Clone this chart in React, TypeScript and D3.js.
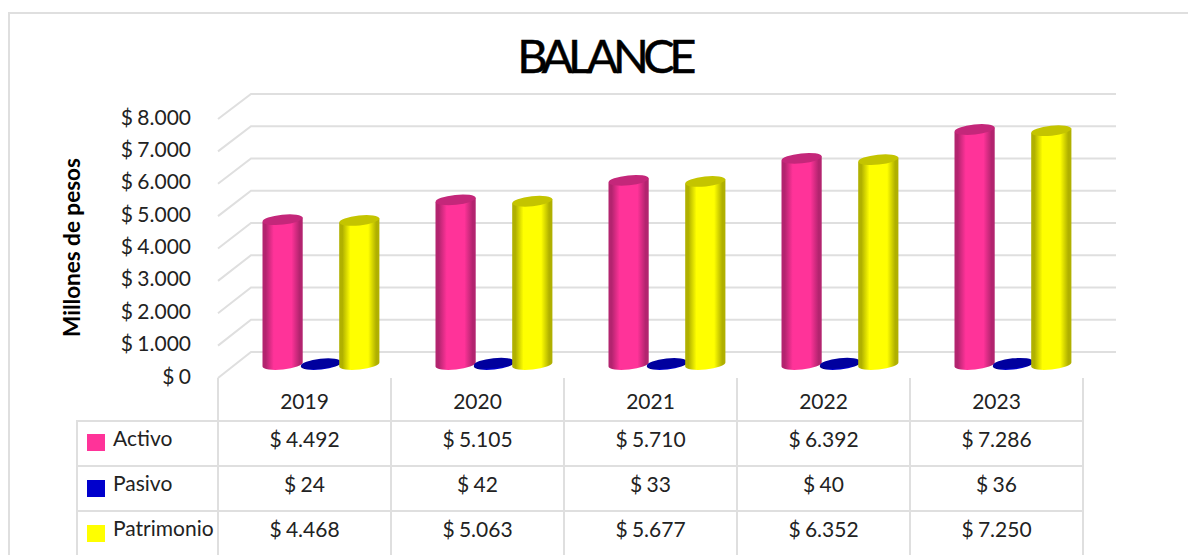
import React from "react";
import * as d3 from "d3";

const years = ["2019", "2020", "2021", "2022", "2023"];
const activo = [4492, 5105, 5710, 6392, 7286];
const pasivo = [24, 42, 33, 40, 36];
const patrimonio = [4468, 5063, 5677, 6352, 7250];
const yTicks = [0, 1000, 2000, 3000, 4000, 5000, 6000, 7000, 8000];
const seriesNames = ["Activo", "Pasivo", "Patrimonio"];
const seriesColors = ["#ff3399", "#0000cc", "#ffff00"];
const topColors = ["#c4277a", "#00009e", "#c4c400"];
const edgeColors = ["#b3246f", "#00008a", "#b0b000"];
const FONT = "Lato, 'Noto Sans', sans-serif";
const GRID = "#dfdfdf";

const fmt = (v: number) => "$ " + d3.format(",")(v).replace(/,/g, ".");

export default function App() {
  const x = d3.scaleBand<string>().domain(years).range([218, 1083]);
  const yBack = d3.scaleLinear().domain([0, 8000]).range([352, 94]);
  const yFront = d3.scaleLinear().domain([0, 8000]).range([378, 119]);
  const yBar = d3.scaleLinear().domain([0, 8000]).range([364.5, 106.5]);
  const rx = 20.1;
  const ry = 5;
  const tilt = 6;
  const dy = rx * Math.sin((tilt * Math.PI) / 180);
  const series = d3.scalePoint<string>().domain(seriesNames).range([64.6, 141.3]);
  const rows = [activo, pasivo, patrimonio];
  const rowY = [421, 466, 511];
  const swatchY = [434, 480, 525];

  return (
    <svg
      width={1188}
      height={555}
      style={{ position: "fixed", left: 0, top: 0, background: "#fff" }}
      fontFamily={FONT}
    >
      <defs>
        {seriesNames.map((n, i) => (
          <linearGradient key={n} id={"g" + i} x1="0" x2="1" y1="0" y2="0">
            <stop offset="0" stopColor={edgeColors[i]} />
            <stop offset="0.08" stopColor={edgeColors[i]} />
            <stop offset="0.28" stopColor={seriesColors[i]} />
            <stop offset="0.72" stopColor={seriesColors[i]} />
            <stop offset="0.92" stopColor={edgeColors[i]} />
            <stop offset="1" stopColor={edgeColors[i]} />
          </linearGradient>
        ))}
      </defs>
      <path d="M9,555V13H1188" fill="none" stroke={GRID} strokeWidth={2} />
      <text
        x={604}
        y={73}
        textAnchor="middle"
        fontSize={47}
        letterSpacing={-5.5}
        stroke="#000"
        strokeWidth={0.5}
        fill="#000"
      >
        BALANCE
      </text>

      {yTicks.map((t) => (
        <g key={t}>
          <path
            d={`M218,${yFront(t)}L251,${yBack(t)}H1116`}
            fill="none"
            stroke={GRID}
            strokeWidth={2}
          />
          <text x={191} y={yFront(t) + 5.5} textAnchor="end" fontSize={21} wordSpacing={-1} fill="#222">
            {fmt(t)}
          </text>
        </g>
      ))}
      <text
        transform="translate(80,247.5) rotate(-90)"
        textAnchor="middle"
        fontSize={22.5}
        fontWeight={700}
        fill="#000"
      >
        Millones de pesos
      </text>

      {years.map((yr, c) =>
        seriesNames.map((n, s) => {
          const cx = x(yr)! + series(n)!;
          const top = yBar(rows[s][c]);
          const base = yBar(0);
          const x0 = cx - rx;
          const x1 = cx + rx;
          return (
            <g key={yr + n}>
              <path
                d={`M${x0},${top + dy}L${x0},${base + dy}A${rx},${ry},${-tilt},0,0,${x1},${base - dy}L${x1},${top - dy}Z`}
                fill={`url(#g${s})`}
              />
              <ellipse
                cx={cx}
                cy={top}
                rx={rx}
                ry={ry}
                fill={topColors[s]}
                transform={`rotate(${-tilt} ${cx} ${top})`}
              />
            </g>
          );
        })
      )}

      {d3.range(0, 6).map((i) => {
        const vx = i < 5 ? x(years[i])! : x.range()[1];
        return <line key={i} x1={vx} x2={vx} y1={378} y2={555} stroke={GRID} strokeWidth={2} />;
      })}
      <line x1={77} x2={77} y1={420} y2={555} stroke={GRID} strokeWidth={2} />
      {rowY.map((ry0) => (
        <line key={ry0} x1={77} x2={1083} y1={ry0} y2={ry0} stroke={GRID} strokeWidth={2} />
      ))}

      {years.map((yr) => (
        <text key={yr} x={x(yr)! + x.bandwidth() / 2} y={409} textAnchor="middle" fontSize={21} fill="#222">
          {yr}
        </text>
      ))}
      {seriesNames.map((n, s) => (
        <g key={n}>
          <rect x={87} y={swatchY[s]} width={18} height={17} fill={seriesColors[s]} />
          <text x={113} y={rowY[s] + 25} fontSize={21} fill="#222">
            {n}
          </text>
          {years.map((yr, c) => (
            <text
              key={yr}
              x={x(yr)! + x.bandwidth() / 2}
              y={rowY[s] + 26}
              textAnchor="middle"
              fontSize={21}
              wordSpacing={-1}
              fill="#222"
            >
              {fmt(rows[s][c])}
            </text>
          ))}
        </g>
      ))}
    </svg>
  );
}
